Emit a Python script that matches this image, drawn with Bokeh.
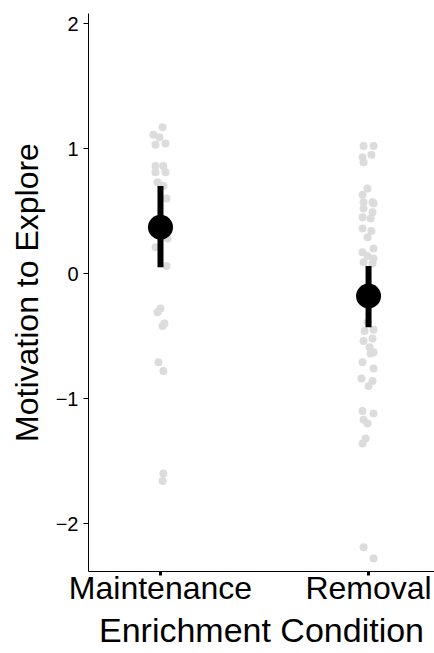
from bokeh.plotting import figure
from bokeh.models import FixedTicker, Range1d
from bokeh.embed import file_html
from bokeh.resources import INLINE

# ---- data ----
categories = ["Maintenance", "Removal"]
cat_pos = [1, 2]

maint_vals = [1.17, 1.11, 1.09, 1.03, 1.04, 0.86, 0.86, 0.81, 0.81, 0.73, 0.70, 0.60,
              0.28, 0.21, 0.06, -0.28, -0.31, -0.40, -0.42, -0.71, -0.78, -1.60, -1.66]
maint_jit = [0.01, -0.034, -0.005, -0.024, 0.024, -0.024, 0.014, -0.024, 0.024, -0.014, 0.014, 0.029,
             0.034, -0.024, 0.029, 0.0, -0.014, 0.019, 0.01, -0.01, 0.014, 0.014, 0.01]

rem_vals = [1.02, 1.02, 0.93, 0.95, 0.89, 0.68, 0.63, 0.57, 0.57, 0.56, 0.52, 0.49, 0.45, 0.44,
            0.36, 0.34, 0.29, 0.17, 0.20, 0.14, 0.12, 0.09, 0.08,
            -0.39, -0.46, -0.45, -0.54, -0.52, -0.59, -0.63, -0.64, -0.71, -0.76, -0.84, -0.86,
            -0.90, -1.10, -1.12, -1.17, -1.20, -1.32, -1.36, -2.19, -2.28]
rem_jit = [-0.024, 0.024, -0.029, 0.014, -0.024, -0.005, -0.029, -0.024, 0.019, 0.024, -0.024, 0.019,
           -0.029, 0.01, -0.029, 0.014, -0.005, -0.029, 0.024, -0.005, 0.024, -0.024, 0.019,
           -0.005, -0.019, 0.024, -0.024, 0.019, 0.005, 0.024, 0.01, -0.029, 0.024, -0.034, 0.019,
           0.0, -0.029, 0.024, -0.024, -0.005, -0.014, -0.029, -0.024, 0.024]

means = [0.37, -0.18]
ci_low = [0.05, -0.43]
ci_high = [0.70, 0.06]

y_ticks = [-2, -1, 0, 1, 2]

FONT = "Liberation Sans"

p = figure(width=434, height=653, output_backend="svg", toolbar_location=None,
           x_range=Range1d(0.654, 2.317), y_range=Range1d(-2.384, 2.08),
           min_border_left=88, min_border_right=0, min_border_top=13, min_border_bottom=82)

p.outline_line_color = None
p.xgrid.visible = False
p.ygrid.visible = False
p.background_fill_color = "white"
p.border_fill_color = "white"

# jittered raw points
xs = [cat_pos[0] + j for j in maint_jit] + [cat_pos[1] + j for j in rem_jit]
ys = maint_vals + rem_vals
p.scatter(xs, ys, size=8, color="#DCDCDC", line_color=None)

# error bars and means
p.segment(x0=cat_pos, y0=ci_low, x1=cat_pos, y1=ci_high, line_width=6, line_color="black")
p.scatter(cat_pos, means, size=25, color="black", line_color=None)

# axes
p.xaxis.ticker = FixedTicker(ticks=cat_pos)
p.xaxis.major_label_overrides = {c: lab for c, lab in zip(cat_pos, categories)}
p.yaxis.ticker = FixedTicker(ticks=y_ticks)
p.xaxis.minor_tick_line_color = None
p.yaxis.minor_tick_line_color = None

for ax in (p.xaxis[0], p.yaxis[0]):
    ax.axis_line_color = "black"
    ax.axis_line_width = 1
    ax.major_tick_line_color = "black"
    ax.major_tick_in = 0
    ax.major_label_text_color = "black"
    ax.major_label_text_font = FONT
    ax.axis_label_text_font = FONT
    ax.axis_label_text_font_style = "normal"
    ax.axis_label_text_color = "black"

p.xaxis.major_tick_out = 4
p.xaxis.major_tick_line_width = 3
p.xaxis.major_label_text_font_size = "32px"
p.xaxis.major_label_standoff = -6
p.xaxis.axis_label = "Enrichment Condition"
p.xaxis.axis_label_text_font_size = "34px"
p.xaxis.axis_label_standoff = 2

p.yaxis.major_tick_out = 5
p.yaxis.major_tick_line_width = 1
p.yaxis.major_label_text_font_size = "20px"
p.yaxis.major_label_standoff = 5
p.yaxis.axis_label = "Motivation to Explore"
p.yaxis.axis_label_text_font_size = "32px"
p.yaxis.axis_label_standoff = 8
p.yaxis.major_label_overrides = {-2: "\u22122", -1: "\u22121"}

open("out.html", "w").write(file_html(p, INLINE))
